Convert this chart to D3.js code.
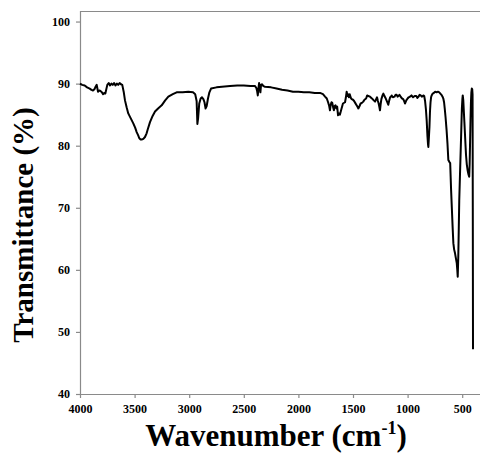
<!DOCTYPE html>
<html>
<head>
<meta charset="utf-8">
<script src="https://cdn.jsdelivr.net/npm/d3@7"></script>
<style>
  html, body { margin: 0; padding: 0; background: #fff; }
  svg { display: block; }
  .tick text { font-family: "Liberation Serif", "Times New Roman", serif; font-weight: bold; font-size: 12px; fill: #000; }
</style>
</head>
<body>
<svg id="chart" width="480" height="457"></svg>
<script>
// FTIR spectrum: wavenumber (cm-1) vs transmittance (%)
const wavenumber = [
  4000, 3980, 3957, 3935, 3911, 3895, 3881, 3868, 3860, 3847, 3835, 3822, 3811, 3800, 3789, 3778, 3768,
  3750, 3737, 3725, 3712, 3700, 3688, 3675, 3662, 3650, 3637, 3625, 3613,
  3600, 3588, 3573, 3558, 3535, 3512, 3495, 3481, 3468, 3457, 3445, 3435, 3420, 3405, 3390, 3380, 3359,
  3335, 3313, 3285, 3252, 3220, 3191, 3150, 3115, 3060, 3008, 2965, 2945, 2932, 2925, 2918, 2908, 2895,
  2883, 2870, 2860, 2850, 2840, 2828, 2815, 2800, 2750, 2700, 2626, 2560, 2500, 2440, 2397,
  2385, 2378, 2372, 2366, 2360, 2354, 2348, 2342, 2334, 2320, 2306, 2250, 2200, 2150, 2100, 2050, 2000,
  1950, 1900, 1850, 1802, 1775, 1756, 1740, 1728, 1718, 1711, 1704, 1697, 1690, 1682, 1675, 1668,
  1660, 1652, 1645, 1637, 1628, 1620, 1606, 1592, 1573, 1565, 1558, 1550, 1545, 1538, 1530, 1520, 1512,
  1500, 1490, 1480, 1470, 1460, 1451, 1440, 1430, 1418, 1406, 1395, 1380, 1370, 1360, 1344, 1332, 1320,
  1310, 1298, 1288, 1280, 1272, 1265, 1258, 1253, 1246, 1240, 1230, 1222, 1212, 1200, 1188, 1177, 1168,
  1160, 1152, 1146, 1135, 1120, 1110, 1100, 1092, 1085, 1075, 1060, 1050, 1040, 1032, 1024, 1012, 1000,
  990, 978, 965, 950, 935, 920, 910, 900, 890, 880, 870, 856, 848, 840, 832, 825, 818, 813, 810, 806,
  800, 795, 790, 785, 780, 770, 760, 748, 734, 722, 710, 700, 690, 680, 673, 666, 660, 652, 643, 635,
  627, 618, 610, 602, 595, 588, 581, 574, 566, 558, 550, 545, 541, 536, 532, 527, 520, 511, 503, 498,
  495, 490, 485, 480, 475, 470, 465, 458, 450, 443, 436, 432, 428, 424, 420, 416, 412, 408, 405, 403, 401
];
const transmittance = [
  90.0, 89.8, 89.7, 89.4, 89.2, 89.0, 88.9, 89.1, 89.4, 89.8, 88.7, 88.9, 88.8, 88.6, 88.3, 88.5, 88.4,
  89.8, 90.1, 89.7, 90.0, 89.8, 90.1, 89.7, 90.0, 89.8, 90.1, 89.9, 89.8,
  88.7, 87.3, 86.2, 85.2, 84.4, 83.6, 82.9, 82.2, 81.7, 81.2, 81.0, 81.0, 81.1, 81.4, 82.0, 82.6, 83.8,
  84.8, 85.5, 86.0, 86.5, 87.3, 87.9, 88.3, 88.6, 88.6, 88.7, 88.6, 88.3, 87.2, 83.5, 84.5, 86.8, 87.6,
  87.8, 87.5, 87.0, 86.0, 86.4, 87.6, 88.6, 89.2, 89.4, 89.5, 89.6, 89.7, 89.7, 89.6, 89.6,
  89.3, 88.8, 88.1, 89.2, 90.1, 89.4, 88.6, 89.8, 89.9, 89.6, 89.5, 89.4, 89.2, 89.0, 88.9, 88.7, 88.7,
  88.6, 88.6, 88.5, 88.5, 88.3, 87.9, 87.6, 87.0, 86.4, 85.7, 86.6, 87.0, 86.9, 86.2, 85.7, 86.4,
  86.5, 86.0, 86.3, 84.9, 85.2, 85.0, 85.9, 86.8, 87.0, 87.8, 88.7, 88.0, 88.3, 87.8, 88.3, 87.7, 87.5,
  87.4, 87.2, 86.9, 86.6, 86.3, 86.0, 86.4, 86.8, 86.9, 87.1, 87.4, 87.6, 88.1, 88.0, 87.9, 87.7, 87.5,
  87.3, 87.1, 87.5, 87.8, 87.2, 86.8, 86.2, 85.7, 86.8, 87.5, 88.1, 88.4, 88.0, 87.6, 87.1, 86.6, 87.3,
  87.8, 87.9, 88.1, 87.8, 87.9, 88.2, 88.2, 87.9, 88.0, 88.2, 87.8, 87.6, 87.5, 87.2, 86.8, 87.3, 87.6,
  87.8, 87.9, 88.1, 87.8, 88.0, 88.0, 87.7, 87.9, 88.2, 88.1, 87.9, 88.1, 88.0, 87.2, 85.8, 84.0, 81.5, 80.2, 79.8, 81.0,
  83.0, 85.5, 87.0, 87.8, 88.1, 88.4, 88.5, 88.7, 88.6, 88.7, 88.6, 88.4, 88.2, 87.9, 87.6, 87.0, 86.0, 84.5, 82.5, 80.4,
  77.7, 77.4, 77.2, 73.0, 70.0, 67.0, 64.3, 63.3, 62.7, 61.9, 61.1, 60.0, 58.9, 62.0, 66.0, 71.2, 75.5, 80.9, 86.0, 87.6,
  88.1, 87.3, 85.5, 83.8, 82.0, 80.2, 78.5, 77.0, 76.0, 75.4, 75.0, 77.0, 80.5, 84.0, 87.0, 88.6, 89.2, 89.1, 88.2, 70.0, 47.2
];
const xTicks = [4000, 3500, 3000, 2500, 2000, 1500, 1000, 500];
const yTicks = [40, 50, 60, 70, 80, 90, 100];

const svg = d3.select("#chart");
const plotLeft = 80, plotRight = 480, plotTop = 11, plotBottom = 394;
const axisGray = "#8a8a8a";

const x = d3.scaleLinear().domain([4000, 337]).range([plotLeft, plotRight]);
const y = d3.scaleLinear().domain([40, 101.7]).range([plotBottom, plotTop]);

// frame line along the top of the plot area
svg.append("line")
  .attr("x1", plotLeft).attr("x2", plotRight + 2)
  .attr("y1", plotTop + 0.5).attr("y2", plotTop + 0.5)
  .attr("stroke", axisGray).attr("stroke-width", 1.2);

const yAxis = svg.append("g")
  .attr("transform", `translate(${plotLeft},0)`)
  .call(d3.axisLeft(y).tickValues(yTicks).tickFormat(d3.format("d"))
    .tickSize(4).tickSizeOuter(0).tickPadding(6));
yAxis.select(".domain").attr("d", `M0.5,${plotTop}V${plotBottom}`);

const xAxis = svg.append("g")
  .attr("transform", `translate(0,${plotBottom})`)
  .call(d3.axisBottom(x).tickValues(xTicks).tickFormat(d3.format("d"))
    .tickSize(4).tickSizeOuter(0).tickPadding(6));
xAxis.select(".domain").attr("d", `M${plotLeft},0.5H${plotRight + 2}`);

svg.selectAll(".domain").attr("stroke", axisGray).attr("stroke-width", 1.2);
svg.selectAll(".tick line").attr("stroke", axisGray).attr("stroke-width", 1.2);

// spectrum trace
const points = wavenumber.map((w, i) => [w, transmittance[i]]);
svg.append("path")
  .datum(points)
  .attr("fill", "none")
  .attr("stroke", "#000")
  .attr("stroke-width", 2)
  .attr("stroke-linejoin", "round")
  .attr("d", d3.line().x(d => x(d[0])).y(d => y(d[1])));

// axis titles
const titleFont = "'Liberation Serif', 'Times New Roman', serif";
svg.append("text")
  .attr("transform", "translate(33,225) rotate(-90)")
  .attr("text-anchor", "middle")
  .attr("font-family", titleFont)
  .attr("font-weight", "bold")
  .attr("font-size", 29)
  .text("Transmittance (%)");

const xt = svg.append("text")
  .attr("x", 276).attr("y", 446)
  .attr("text-anchor", "middle")
  .attr("font-family", titleFont)
  .attr("font-weight", "bold")
  .attr("font-size", 31);
xt.append("tspan").text("Wavenumber (cm");
xt.append("tspan").attr("font-size", 18).attr("dy", -12).text("-1");
xt.append("tspan").attr("dy", 12).text(")");
</script>
</body>
</html>
